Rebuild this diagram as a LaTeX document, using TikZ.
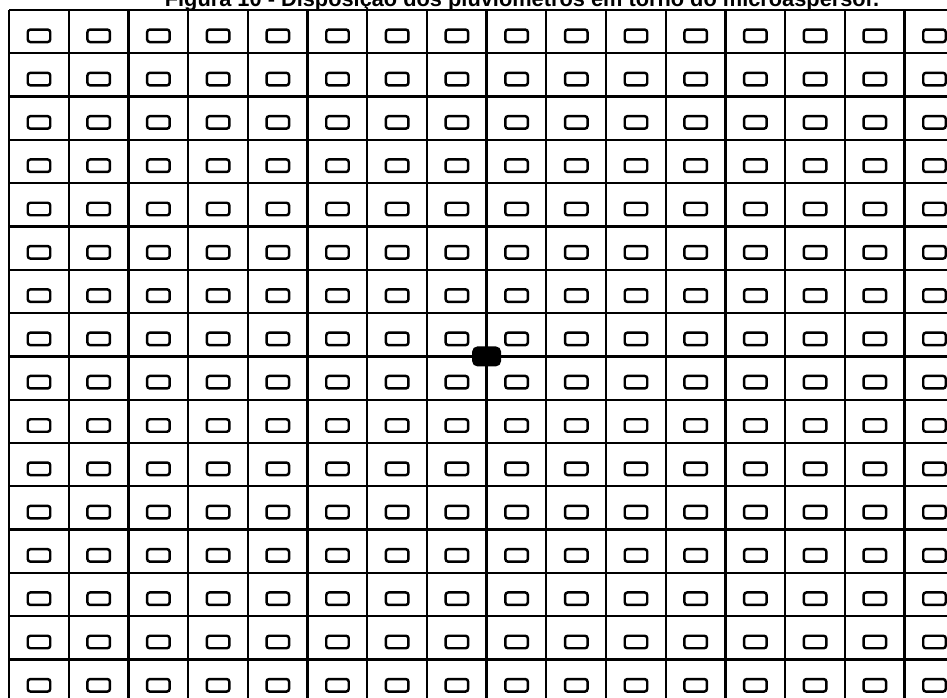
\documentclass[tikz,border=0pt]{standalone}
\usepackage{fontspec}
\setmainfont{Liberation Sans}
\usetikzlibrary{positioning}
\tikzset{
  grade/.style={line width=1.3pt},
  pluv/.style={draw, line width=1.4pt, rounded corners=1.5pt,
    minimum width=0.45cm, minimum height=0.25cm, inner sep=0pt},
  aspersor/.style={fill=black, rounded corners=3pt,
    minimum width=0.58cm, minimum height=0.4cm, inner sep=0pt}}

\begin{document}
\begin{tikzpicture}[x=0.02cm, y=-0.02cm]
\useasboundingbox (0,0) rectangle (947,697);
\clip (0,0) rectangle (947,697);
% titulo (cortado no topo)
\node[font=\bfseries\fontsize{12.4}{14}\selectfont, anchor=base, inner sep=0pt] (titulo) at (522,6.5)
  {Figura 10 - Disposição dos pluviômetros em torno do microaspersor.};
% grade
\foreach \i in {0,...,16}
  \draw[grade] (9+\i*59.7,10) -- (9+\i*59.7,710);
\foreach \j in {0,...,16}
  \draw[grade] (9,10+\j*43.3) -- (970,10+\j*43.3);
% pluviometros
\foreach \r in {0,...,15}
  \foreach \c in {0,...,15}
    \node[pluv] (p-\r-\c) at (39+\c*59.7,35.8+\r*43.3) {};
% microaspersor
\node[aspersor] (micro) at (486.6,356.4) {};
\end{tikzpicture}
\end{document}
